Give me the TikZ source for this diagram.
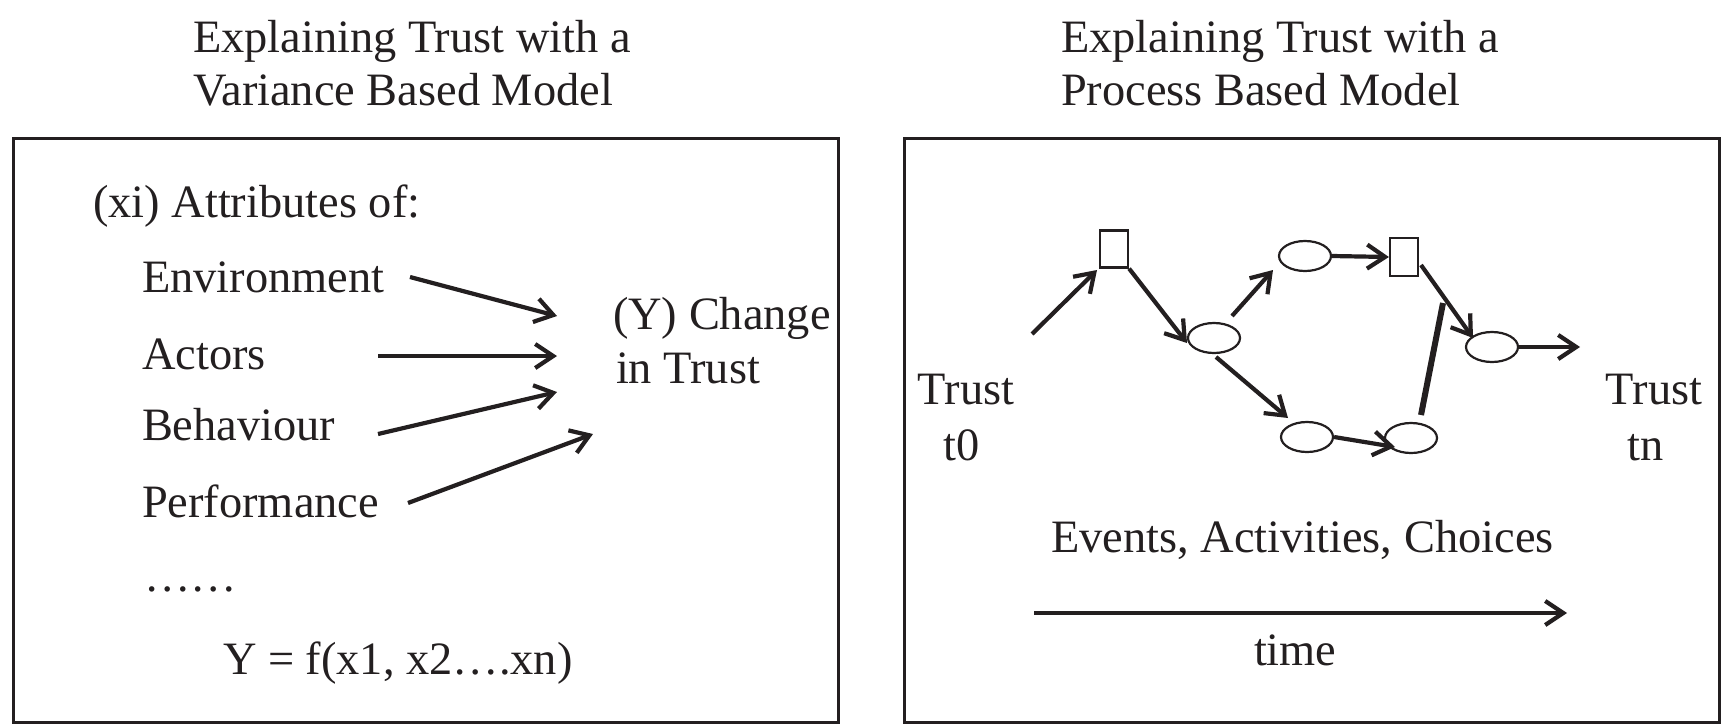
\documentclass[tikz,border=0pt]{standalone}
\usepackage{fontspec}
\setmainfont{Liberation Serif}
\usetikzlibrary{arrows.meta,shapes.geometric}
\definecolor{ink}{RGB}{35,31,32}
\begin{document}
\begin{tikzpicture}[x=0.5pt,y=-0.5pt,
  txt/.style={inner sep=0pt, outer sep=0pt, anchor=base west, font=\fontsize{23.2}{27}\selectfont, text=ink},
  ctxt/.style={txt, anchor=base},
  panel/.style={draw=ink, line width=1.5pt},
  arr/.style={draw=ink, line width=2.1pt, -{Straight Barb[length=9pt,width=12pt]}},
  evbox/.style={draw=ink, line width=1.1pt, rectangle, minimum width=14pt, minimum height=18.5pt, inner sep=0pt},
  oval/.style={draw=ink, line width=1.1pt, ellipse, minimum width=26pt, minimum height=15pt, inner sep=0pt},
]
\useasboundingbox (0,0) rectangle (1728,724);

% ---------- left panel ----------
\node[txt] (lt1) at (193,52) {Explaining Trust with a};
\node[txt] (lt2) at (193,105) {Variance Based Model};
\draw[panel] (13,138) rectangle (838,722);

\node[txt] (xi) at (93,217) {(xi) Attributes of:};
\node[txt] (env) at (142,292) {Environment};
\node[txt] (act) at (142,369) {Actors};
\node[txt] (beh) at (142,440) {Behaviour};
\node[txt] (perf) at (142,517) {Performance};
\node[txt] (dots) at (144,591) {……};
\node[txt] (fy) at (223,674) {Y = f(x1, x2….xn)};
\node[txt] (yc1) at (613,329) {(Y) Change};
\node[txt] (yc2) at (616,383) {in Trust};

\coordinate (a1s) at (410,277); \coordinate (a1e) at (557,316);
\coordinate (a2s) at (378,356); \coordinate (a2e) at (557,356);
\coordinate (a3s) at (378,434); \coordinate (a3e) at (557,392);
\coordinate (a4s) at (408,503); \coordinate (a4e) at (593,434);
\draw[arr] (a1s) -- (a1e);
\draw[arr] (a2s) -- (a2e);
\draw[arr] (a3s) -- (a3e);
\draw[arr] (a4s) -- (a4e);

% ---------- right panel ----------
\node[txt] (rt1) at (1061,52) {Explaining Trust with a};
\node[txt] (rt2) at (1061,105) {Process Based Model};
\draw[panel] (904,138) rectangle (1719,722);

\node[evbox] (sq1) at (1114,249) {};
\node[evbox, minimum height=19pt] (sq2) at (1404,257) {};
\node[oval] (eA) at (1214,338) {};
\node[oval] (eB) at (1305,256) {};
\node[oval] (eC) at (1307,437) {};
\node[oval] (eD) at (1411,438) {};
\node[oval] (eE) at (1492,347) {};

\node[ctxt] (tr0) at (966,404) {Trust};
\node[ctxt] (t0) at (962,460) {t0};
\node[ctxt] (trn) at (1654,404) {Trust};
\node[ctxt] (tn) at (1646,460) {tn};
\node[txt] (ev) at (1051,552) {Events, Activities, Choices};
\node[txt] (tm) at (1254,665) {time};

\coordinate (s0) at (1032,334);
\coordinate (lnk) at (1443,303);
\coordinate (out) at (1580,347);
\coordinate (ts) at (1034,613);
\coordinate (te) at (1567,613);

\draw[arr] (s0) -- ([shift={(-17,21)}]sq1.center);
\draw[arr] (sq1.south east) -- ([shift={(-27,5)}]eA.center);
\draw[arr] ([shift={(18,-22)}]eA.center) -- ([shift={(-32,14)}]eB.center);
\draw[arr] (eB.east) -- (sq2.west);
\draw[arr] ([shift={(2,19)}]eA.center) -- ([shift={(-19,-19)}]eC.center);
\draw[arr] (eC.east) -- ([shift={(-16,9)}]eD.center);
\draw[draw=ink, line width=3pt] ([shift={(10,-23)}]eD.center) -- (lnk);
\draw[arr] ([shift={(17,8)}]sq2.center) -- ([shift={(-19,-9)}]eE.center);
\draw[arr] (eE.east) -- (out);
\draw[arr] (ts) -- (te);
\end{tikzpicture}
\end{document}
